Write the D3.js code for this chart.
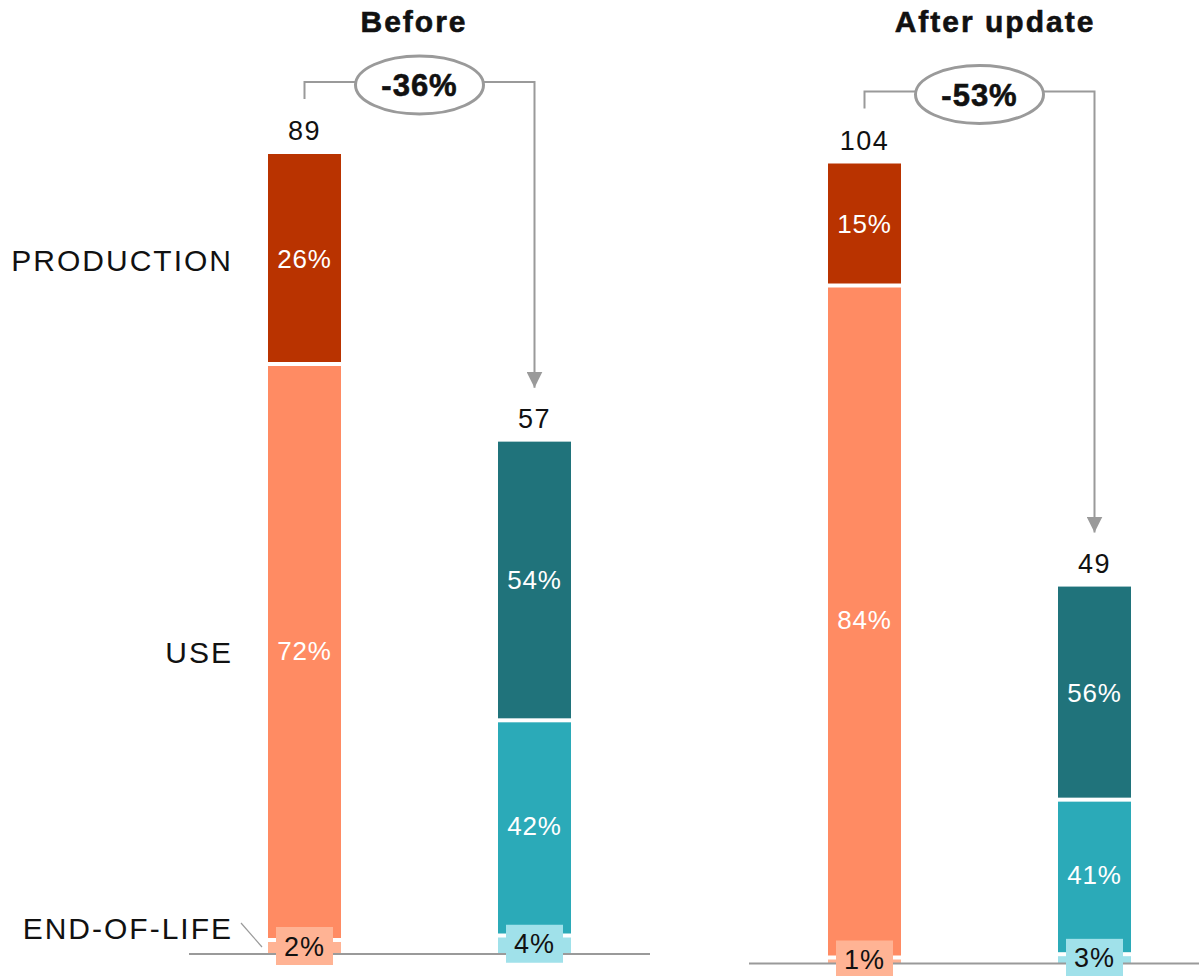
<!DOCTYPE html>
<html>
<head>
<meta charset="utf-8">
<script src="https://cdn.jsdelivr.net/npm/d3@7"></script>
<style>
  html, body { margin: 0; padding: 0; background: #fff; }
  svg { display: block; font-family: "Liberation Sans", Arial, sans-serif; }
</style>
</head>
<body>
<svg id="chart" width="1199" height="976"></svg>
<script>
// Life-cycle stages, stacked from the bottom up
const stages = ["END-OF-LIFE", "USE", "PRODUCTION"];
const panelTitles = ["Before", "After update"];
const changeLabels = ["-36%", "-53%"];

// Totals for the two bars of each panel
const beforeTotals = [89, 57];
const afterTotals = [104, 49];

// Stage shares (%) of each bar, in stage order
const beforeShares = [[2, 72, 26], [4, 42, 54]];
const afterShares = [[1, 84, 15], [3, 41, 56]];

// Palettes: first bar warm, second bar teal (bottom → top)
const warm = ["#ffb394", "#ff8b63", "#b93300"];
const cool = ["#a0e1ea", "#2baab8", "#20737b"];

const panels = [
  { title: panelTitles[0], totals: beforeTotals, shares: beforeShares, change: changeLabels[0],
    dx: 0, dy: 0, titleX: 414 },
  { title: panelTitles[1], totals: afterTotals, shares: afterShares, change: changeLabels[1],
    dx: 560, dy: 9.5, titleX: 995 }
];

const svg = d3.select("#chart");
const baseY = 954;
const barH = 800;
const barW = 73;
const gap = 4;
const grey = "#9a9a9a";

const x = d3.scalePoint().domain([0, 1]).range([304.5, 534.5]);

// Titles
svg.selectAll("text.title")
  .data(panels)
  .join("text")
  .attr("class", "title")
  .attr("x", d => d.titleX)
  .attr("y", 32)
  .attr("text-anchor", "middle")
  .attr("font-size", 30)
  .attr("font-weight", "bold")
  .attr("letter-spacing", 2)
  .attr("stroke", "#111")
  .attr("stroke-width", 0.6)
  .attr("fill", "#111")
  .text(d => d.title);

// Arrowhead pointing along the path direction
svg.append("defs").append("marker")
  .attr("id", "arrow")
  .attr("viewBox", "0 0 16 16")
  .attr("refX", 16).attr("refY", 8)
  .attr("markerWidth", 16).attr("markerHeight", 16)
  .attr("markerUnits", "userSpaceOnUse")
  .attr("orient", "auto")
  .append("path")
  .attr("d", "M0,0 L16,8 L0,16 Z")
  .attr("fill", grey);

panels.forEach((p, pi) => {
  const g = svg.append("g").attr("transform", `translate(${p.dx},${p.dy})`);
  const y = d3.scaleLinear().domain([0, d3.max(p.totals)]).range([baseY, baseY - barH]);

  p.totals.forEach((total, bi) => {
    const colors = bi === 0 ? warm : cool;
    const cx = x(bi);
    let cum = 0;
    const segs = p.shares[bi].map((s, si) => {
      const v = total * s / 100;
      const seg = { share: s, v0: cum, v1: cum + v, si, top: si === stages.length - 1 };
      cum += v;
      return seg;
    });

    const bar = g.append("g");
    bar.selectAll("rect")
      .data(segs)
      .join("rect")
      .attr("x", cx - barW / 2)
      .attr("width", barW)
      .attr("y", d => y(d.v1) + (d.top ? 0 : gap))
      .attr("height", d => Math.max(0, y(d.v0) - y(d.v1) - (d.top ? 0 : gap)))
      .attr("fill", d => colors[d.si]);

    // In-bar labels for the upper stages
    bar.selectAll("text.seg")
      .data(segs.filter(d => d.si > 0))
      .join("text")
      .attr("class", "seg")
      .attr("x", cx)
      .attr("y", d => (y(d.v0) + y(d.v1)) / 2 + 9.5)
      .attr("text-anchor", "middle")
      .attr("font-size", 26)
      .attr("letter-spacing", 0.8)
      .attr("fill", "#fff")
      .text(d => d.share + "%");

    // Total above the bar
    g.append("text")
      .attr("x", cx)
      .attr("y", y(total) - 14)
      .attr("text-anchor", "middle")
      .attr("font-size", 27)
      .attr("letter-spacing", 1.5)
      .attr("fill", "#111")
      .text(total);
  });

  // Baseline
  g.append("line")
    .attr("x1", x(0) - 115.5).attr("x2", x(1) + 115.5 + (pi === 1 ? 20 : 0))
    .attr("y1", baseY).attr("y2", baseY)
    .attr("stroke", grey).attr("stroke-width", 2);

  // End-of-life labels in boxes
  p.totals.forEach((total, bi) => {
    const colors = bi === 0 ? warm : cool;
    const cx = x(bi);
    const share = p.shares[bi][0];
    const cy = (y(0) + y(total * share / 100)) / 2;
    g.append("rect")
      .attr("x", cx - 28.5).attr("y", cy - 19)
      .attr("width", 57).attr("height", 38)
      .attr("fill", colors[0]);
    g.append("text")
      .attr("x", cx).attr("y", cy + 9.5)
      .attr("text-anchor", "middle")
      .attr("font-size", 27)
      .attr("letter-spacing", 1)
      .attr("fill", "#111")
      .text(share + "%");
  });

  // Change bracket with arrow
  const top0 = y(p.totals[0]);
  const top1 = y(p.totals[1]);
  const lineY = top0 - 72;
  const mid = (x(0) + x(1)) / 2;
  const rx = 64, ry = 29;
  g.append("path")
    .attr("d", `M${x(0)},${top0 - 55} V${lineY} H${mid - rx}`)
    .attr("fill", "none").attr("stroke", grey).attr("stroke-width", 2);
  g.append("path")
    .attr("d", `M${mid + rx},${lineY} H${x(1)} V${top1 - 54}`)
    .attr("fill", "none").attr("stroke", grey).attr("stroke-width", 2)
    .attr("marker-end", "url(#arrow)");
  g.append("ellipse")
    .attr("cx", mid).attr("cy", lineY + 3)
    .attr("rx", rx).attr("ry", ry)
    .attr("fill", "#fff").attr("stroke", grey).attr("stroke-width", 3);
  g.append("text")
    .attr("x", mid).attr("y", lineY + 3 + 11)
    .attr("text-anchor", "middle")
    .attr("font-size", 31)
    .attr("font-weight", "bold")
    .attr("letter-spacing", 1)
    .attr("stroke", "#111")
    .attr("stroke-width", 0.6)
    .attr("fill", "#111")
    .text(p.change);

  // Stage names beside the first panel's first bar
  if (pi === 0) {
    const total = p.totals[0];
    let cum = 0;
    const mids = p.shares[0].map(s => {
      const v = total * s / 100;
      const m = (y(cum) + y(cum + v)) / 2;
      cum += v;
      return m;
    });
    const labelY = mids.map((m, i) => i === 0 ? m - 18 : m + 2);
    g.selectAll("text.stage")
      .data(stages)
      .join("text")
      .attr("class", "stage")
      .attr("x", 233)
      .attr("y", (d, i) => labelY[i] + 11)
      .attr("text-anchor", "end")
      .attr("font-size", 30)
      .attr("letter-spacing", 2)
      .attr("fill", "#111")
      .text(d => d);
    g.append("line")
      .attr("x1", 241).attr("y1", labelY[0] - 5)
      .attr("x2", 262).attr("y2", labelY[0] + 19)
      .attr("stroke", grey).attr("stroke-width", 1.2);
  }
});
</script>
</body>
</html>
